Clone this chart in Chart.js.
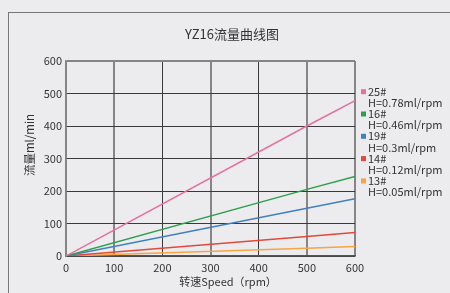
<!DOCTYPE html>
<html>
<head>
<meta charset="utf-8">
<script src="https://cdn.jsdelivr.net/npm/chart.js@4"></script>
<style>
  html, body { margin: 0; padding: 0; background: #ececee; }
  #frame { position: absolute; left: 8px; top: 12px; width: 460px; height: 300px; border-left: 1px solid #777; border-top: 1px solid #777; }
  #wrap { position: absolute; left: 0; top: 0; width: 450px; height: 293px; }
</style>
</head>
<body>
<div id="frame"></div>
<div id="wrap"><canvas id="chart" width="450" height="293"></canvas></div>
<script>
const speeds = [0, 500, 600];
const seriesNames = ['25#', '16#', '19#', '14#', '13#'];
const seriesNotes = ['H=0.78ml/rpm', 'H=0.46ml/rpm', 'H=0.3ml/rpm', 'H=0.12ml/rpm', 'H=0.05ml/rpm'];
const flow25 = [0, 400, 478];
const flow16 = [0, 205, 245];
const flow19 = [0, 147, 176];
const flow14 = [0, 60, 72];
const flow13 = [0, 24, 29];
const seriesColors = ['#e4719c', '#2f9e4c', '#3f7fc2', '#e3493b', '#f6a544'];

const allFlows = [flow25, flow16, flow19, flow14, flow13];
const FONT = '"Noto Sans CJK SC", "Noto Sans", sans-serif';

// titles + two-line legend drawn by hand
const extras = {
  id: 'extras',
  afterDraw(chart) {
    const ctx = chart.ctx;
    ctx.save();
    ctx.fillStyle = '#333';
    ctx.textBaseline = 'middle';
    ctx.textAlign = 'center';
    ctx.font = '13px ' + FONT;
    ctx.fillText('YZ16流量曲线图', 232, 34);
    ctx.font = '11px ' + FONT;
    ctx.fillText('转速Speed（rpm）', 228, 282);
    ctx.save();
    ctx.translate(30, 145);
    ctx.rotate(-Math.PI / 2);
    ctx.font = '11.5px ' + FONT;
    ctx.fillText('流量ml/min', 0, 0);
    ctx.restore();

    ctx.textAlign = 'left';
    ctx.font = '11px ' + FONT;
    chart.data.datasets.forEach((ds, i) => {
      const y = 91.7 + i * 22.3;
      ctx.fillStyle = ds.borderColor;
      ctx.fillRect(361, y - 2.5, 5, 5);
      ctx.fillStyle = '#333';
      ctx.fillText(seriesNames[i], 368, y);
      ctx.fillText(seriesNotes[i], 368, y + 11.2);
    });
    ctx.restore();
  }
};

new Chart(document.getElementById('chart'), {
  type: 'line',
  data: {
    datasets: allFlows.map((vals, i) => ({
      label: seriesNames[i],
      data: vals.map((v, j) => ({ x: speeds[j], y: v })),
      borderColor: seriesColors[i],
      backgroundColor: seriesColors[i],
      borderWidth: 1.5,
      pointRadius: 0,
      tension: 0
    }))
  },
  options: {
    responsive: false,
    devicePixelRatio: 1,
    animation: false,
    layout: { padding: { top: 61, right: 95, left: 0, bottom: 0 } },
    plugins: { legend: { display: false }, title: { display: false }, tooltip: { enabled: false } },
    scales: {
      x: {
        type: 'linear',
        min: 0, max: 600,
        afterFit: s => { s.height = 37; },
        ticks: { stepSize: 100, color: '#333', padding: 5, font: { size: 11, family: FONT } },
        grid: {
          drawTicks: false,
          color: c => [200, 400].includes(c.tick.value) ? '#3a3a3a' : '#858585',
          lineWidth: c => [200, 400].includes(c.tick.value) ? 1 : 2
        },
        border: { color: '#555', width: 1.5 }
      },
      y: {
        min: 0, max: 600,
        afterFit: s => { s.width = 66; },
        ticks: { stepSize: 100, color: '#333', padding: 4, font: { size: 11, family: FONT } },
        grid: {
          drawTicks: false,
          color: c => c.tick.value === 600 ? '#858585' : '#3a3a3a',
          lineWidth: c => c.tick.value === 600 ? 2 : 1
        },
        border: { color: '#858585', width: 1.5 }
      }
    }
  },
  plugins: [extras]
});
</script>
</body>
</html>
